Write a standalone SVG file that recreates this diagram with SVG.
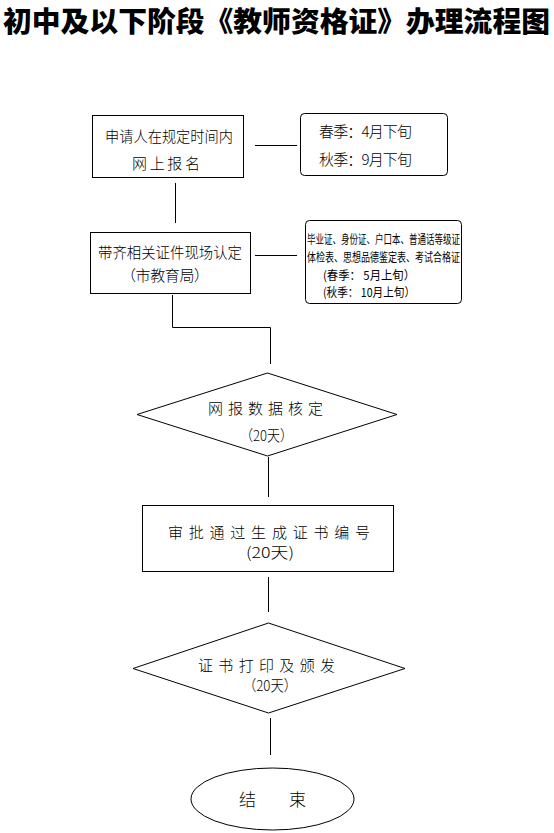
<svg xmlns="http://www.w3.org/2000/svg" width="554" height="833" viewBox="0 0 554 833">
<style>
text{font-family:"Noto Sans CJK SC","Noto Sans",sans-serif;fill:#000;}
.t{font-size:15px;font-weight:300;}
.s{font-size:12px;font-weight:400;}
.title{font-size:28px;font-weight:900;}
.shape{fill:#fff;stroke:#000;stroke-width:1;}
#connectors line,#connectors polyline{stroke:#000;stroke-width:1;fill:none;}
</style>
<rect width="554" height="833" fill="#fff"/>
<text class="title" x="3" y="32" textLength="547" lengthAdjust="spacingAndGlyphs">初中及以下阶段《教师资格证》办理流程图</text>

<g id="connectors">
<line x1="255" y1="145.5" x2="297" y2="145.5"/>
<line x1="175.5" y1="183" x2="175.5" y2="223"/>
<line x1="255" y1="255.5" x2="297" y2="255.5"/>
<polyline points="172.5,295 172.5,327.5 270.5,327.5 270.5,364"/>
<line x1="268.5" y1="457" x2="268.5" y2="497"/>
<line x1="268.5" y1="577" x2="268.5" y2="612"/>
<line x1="270.5" y1="718" x2="270.5" y2="755"/>
</g>

<g id="n1">
<rect class="shape" x="92.5" y="115.5" width="151" height="62"/>
<text class="t" x="105" y="142" textLength="128" lengthAdjust="spacingAndGlyphs">申请人在规定时间内</text>
<text class="t" x="132" y="169" textLength="68" lengthAdjust="spacing">网上报名</text>
</g>

<g id="n1note">
<rect class="shape" x="300.5" y="113.5" width="147" height="62" rx="4"/>
<text class="t" x="319" y="137" textLength="93" lengthAdjust="spacing">春季：4月下旬</text>
<text class="t" x="319" y="165" textLength="93" lengthAdjust="spacing">秋季：9月下旬</text>
</g>

<g id="n2">
<rect class="shape" x="90.5" y="232.5" width="160" height="61"/>
<text class="t" x="98" y="258" textLength="144" lengthAdjust="spacingAndGlyphs">带齐相关证件现场认定</text>
<text class="t" x="121" y="281" textLength="88" lengthAdjust="spacing">（市教育局）</text>
</g>

<g id="n2note">
<rect class="shape" x="305.5" y="220.5" width="156" height="83" rx="4"/>
<text class="s" x="307" y="244" textLength="153" lengthAdjust="spacingAndGlyphs">毕业证、身份证、户口本、普通话等级证</text>
<text class="s" x="307" y="262" textLength="153" lengthAdjust="spacingAndGlyphs">体检表、思想品德鉴定表、考试合格证</text>
<text class="s" x="323" y="280" textLength="92" lengthAdjust="spacingAndGlyphs">(春季：  5月上旬）</text>
<text class="s" x="323" y="297" textLength="92" lengthAdjust="spacingAndGlyphs">(秋季：  10月上旬）</text>
</g>

<g id="n3">
<polygon class="shape" points="137,414.5 267.5,373 397,414.5 267.5,456"/>
<text class="t" x="208" y="414" textLength="115" lengthAdjust="spacing">网报数据核定</text>
<text class="t" x="240" y="441" textLength="53" lengthAdjust="spacingAndGlyphs">（20天）</text>
</g>

<g id="n4">
<rect class="shape" x="142.5" y="505.5" width="251" height="66"/>
<text class="t" x="168" y="538" textLength="202" lengthAdjust="spacing">审批通过生成证书编号</text>
<text class="t" x="246" y="558" textLength="48" lengthAdjust="spacingAndGlyphs">(20天)</text>
</g>

<g id="n5">
<polygon class="shape" points="133,668.5 268.5,623 405,668.5 268.5,713"/>
<text class="t" x="198" y="671" textLength="137" lengthAdjust="spacing">证书打印及颁发</text>
<text class="t" x="243" y="691" textLength="54" lengthAdjust="spacingAndGlyphs">（20天）</text>
</g>

<g id="n6">
<ellipse class="shape" cx="272.5" cy="799" rx="81.5" ry="31"/>
<text class="t" x="239" y="806" style="font-size:17px">结</text>
<text class="t" x="289" y="806" style="font-size:17px">束</text>
</g>
</svg>
